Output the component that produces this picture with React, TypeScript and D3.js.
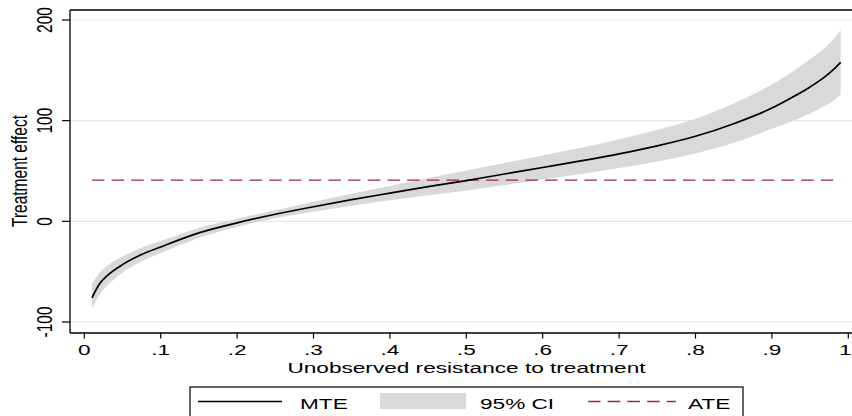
import React from "react";
import * as d3 from "d3";

const uVals = [0.01, 0.02, 0.03, 0.05, 0.075, 0.1, 0.15, 0.2, 0.25, 0.3, 0.35, 0.4, 0.45, 0.5, 0.55, 0.6, 0.65, 0.7, 0.75, 0.8, 0.85, 0.9, 0.925, 0.95, 0.97, 0.98, 0.99];
const mteVals = [-76, -62, -54, -43, -33, -25.5, -11.5, -1.5, 7, 14.5, 21.5, 28, 34.5, 40.5, 47, 53.5, 60, 67, 75, 84.5, 97, 112.5, 122.5, 133.5, 144, 150.5, 158];
const ciLow = [-87, -73, -64, -51, -40, -31.5, -16.5, -5.5, 3, 9.5, 15.5, 21, 26, 30.5, 36, 41.5, 47, 53, 59.5, 67.5, 78, 92, 99, 107, 115, 119.5, 126];
const ciHigh = [-62, -51, -44, -35, -26, -19.5, -6.5, 2.5, 11, 19.5, 27.5, 35, 43, 50.5, 58, 65.5, 73, 81.5, 91, 102, 117, 136, 147.5, 161, 173, 180.5, 190];
const ateValue = 41;
const ateRange = [0.01, 0.99];

const xTicks = [0, 0.1, 0.2, 0.3, 0.4, 0.5, 0.6, 0.7, 0.8, 0.9, 1];
const xTickLabels = ["0", ".1", ".2", ".3", ".4", ".5", ".6", ".7", ".8", ".9", "1"];
const yTicks = [-100, 0, 100, 200];
const yTickLabels = ["-100", "0", "100", "200"];
const legendLabels = ["MTE", "95% CI", "ATE"];
const xTitle = "Unobserved resistance to treatment";
const yTitle = "Treatment effect";

const FONT = "'Liberation Sans', Arial, Helvetica, sans-serif";
const FS = 15.5;
const SX = 1.46;
const ATE_COLOR = "#9a2a33";
const BAND = "#d9d9d9";

export default function App() {
  const x = d3.scaleLinear().domain([0, 1]).range([84.3, 848.3]);
  const y = d3.scaleLinear().domain([-100, 200]).range([322, 20]);
  const plotLeft = 70, plotTop = 10, plotBottom = 333, plotRight = 860;

  const idx = uVals.map((_, i) => i);
  const area = d3.area<number>()
    .x((i) => x(uVals[i]))
    .y0((i) => y(ciLow[i]))
    .y1((i) => y(ciHigh[i]))
    .curve(d3.curveMonotoneX);
  const line = d3.line<number>()
    .x((i) => x(uVals[i]))
    .y((i) => y(mteVals[i]))
    .curve(d3.curveMonotoneX);

  const txt = (s: string, tx: number, ty: number, anchor: string, rot = false, key?: any) => (
    <text
      key={key}
      transform={`translate(${tx},${ty}) scale(${SX},1)${rot ? " rotate(-90)" : ""}`}
      textAnchor={anchor}
      fontFamily={FONT}
      fontSize={FS}
      fill="#000"
    >
      {s}
    </text>
  );

  return (
    <svg width={852} height={416} style={{ position: "absolute", left: 0, top: 0, background: "#fff" }}>
      <rect x={0} y={0} width={852} height={416} fill="#fff" />
      {yTicks.map((t) => (
        <line key={"g" + t} x1={plotLeft} x2={plotRight} y1={y(t)} y2={y(t)} stroke="#e6e6e6" strokeWidth={1.2} />
      ))}
      <path d={area(idx) || ""} fill={BAND} stroke="none" />
      <line x1={x(ateRange[0])} x2={x(ateRange[1])} y1={y(ateValue)} y2={y(ateValue)} stroke={ATE_COLOR} strokeWidth={1.3} strokeDasharray="12.5,7.2" />
      <path d={line(idx) || ""} fill="none" stroke="#000" strokeWidth={1.7} />
      <line x1={plotLeft} x2={plotRight} y1={plotTop} y2={plotTop} stroke="#000" strokeWidth={1.3} />
      <line x1={plotLeft} x2={plotLeft} y1={plotTop} y2={plotBottom} stroke="#000" strokeWidth={1.3} />
      <line x1={plotLeft} x2={plotRight} y1={plotBottom} y2={plotBottom} stroke="#000" strokeWidth={1.3} />
      {yTicks.map((t, i) => (
        <g key={"yt" + t}>
          <line x1={62} x2={plotLeft} y1={y(t)} y2={y(t)} stroke="#000" strokeWidth={1.2} />
          {txt(yTickLabels[i], 52, y(t), "middle", true)}
        </g>
      ))}
      {txt(yTitle, 27, 171, "middle", true)}
      {xTicks.map((t, i) => (
        <g key={"xt" + t}>
          <line x1={x(t)} x2={x(t)} y1={plotBottom} y2={338.5} stroke="#000" strokeWidth={1.2} />
          {i === xTicks.length - 1
            ? txt(xTickLabels[i], 851.5, 355, "end")
            : txt(xTickLabels[i], x(t), 355, "middle")}
        </g>
      ))}
      {txt(xTitle, 466.5, 372.5, "middle")}
      <rect x={190} y={387} width={553} height={45} fill="#fff" stroke="#000" strokeWidth={1.2} />
      <line x1={198} x2={282} y1={401.5} y2={401.5} stroke="#000" strokeWidth={1.5} />
      {txt(legendLabels[0], 300, 408.5, "start")}
      <rect x={380} y={393} width={86} height={16} fill={BAND} />
      {txt(legendLabels[1], 480, 408.5, "start")}
      <line x1={588} x2={676} y1={401.5} y2={401.5} stroke={ATE_COLOR} strokeWidth={1.3} strokeDasharray="12.5,7.2" />
      {txt(legendLabels[2], 688, 408.5, "start")}
    </svg>
  );
}
